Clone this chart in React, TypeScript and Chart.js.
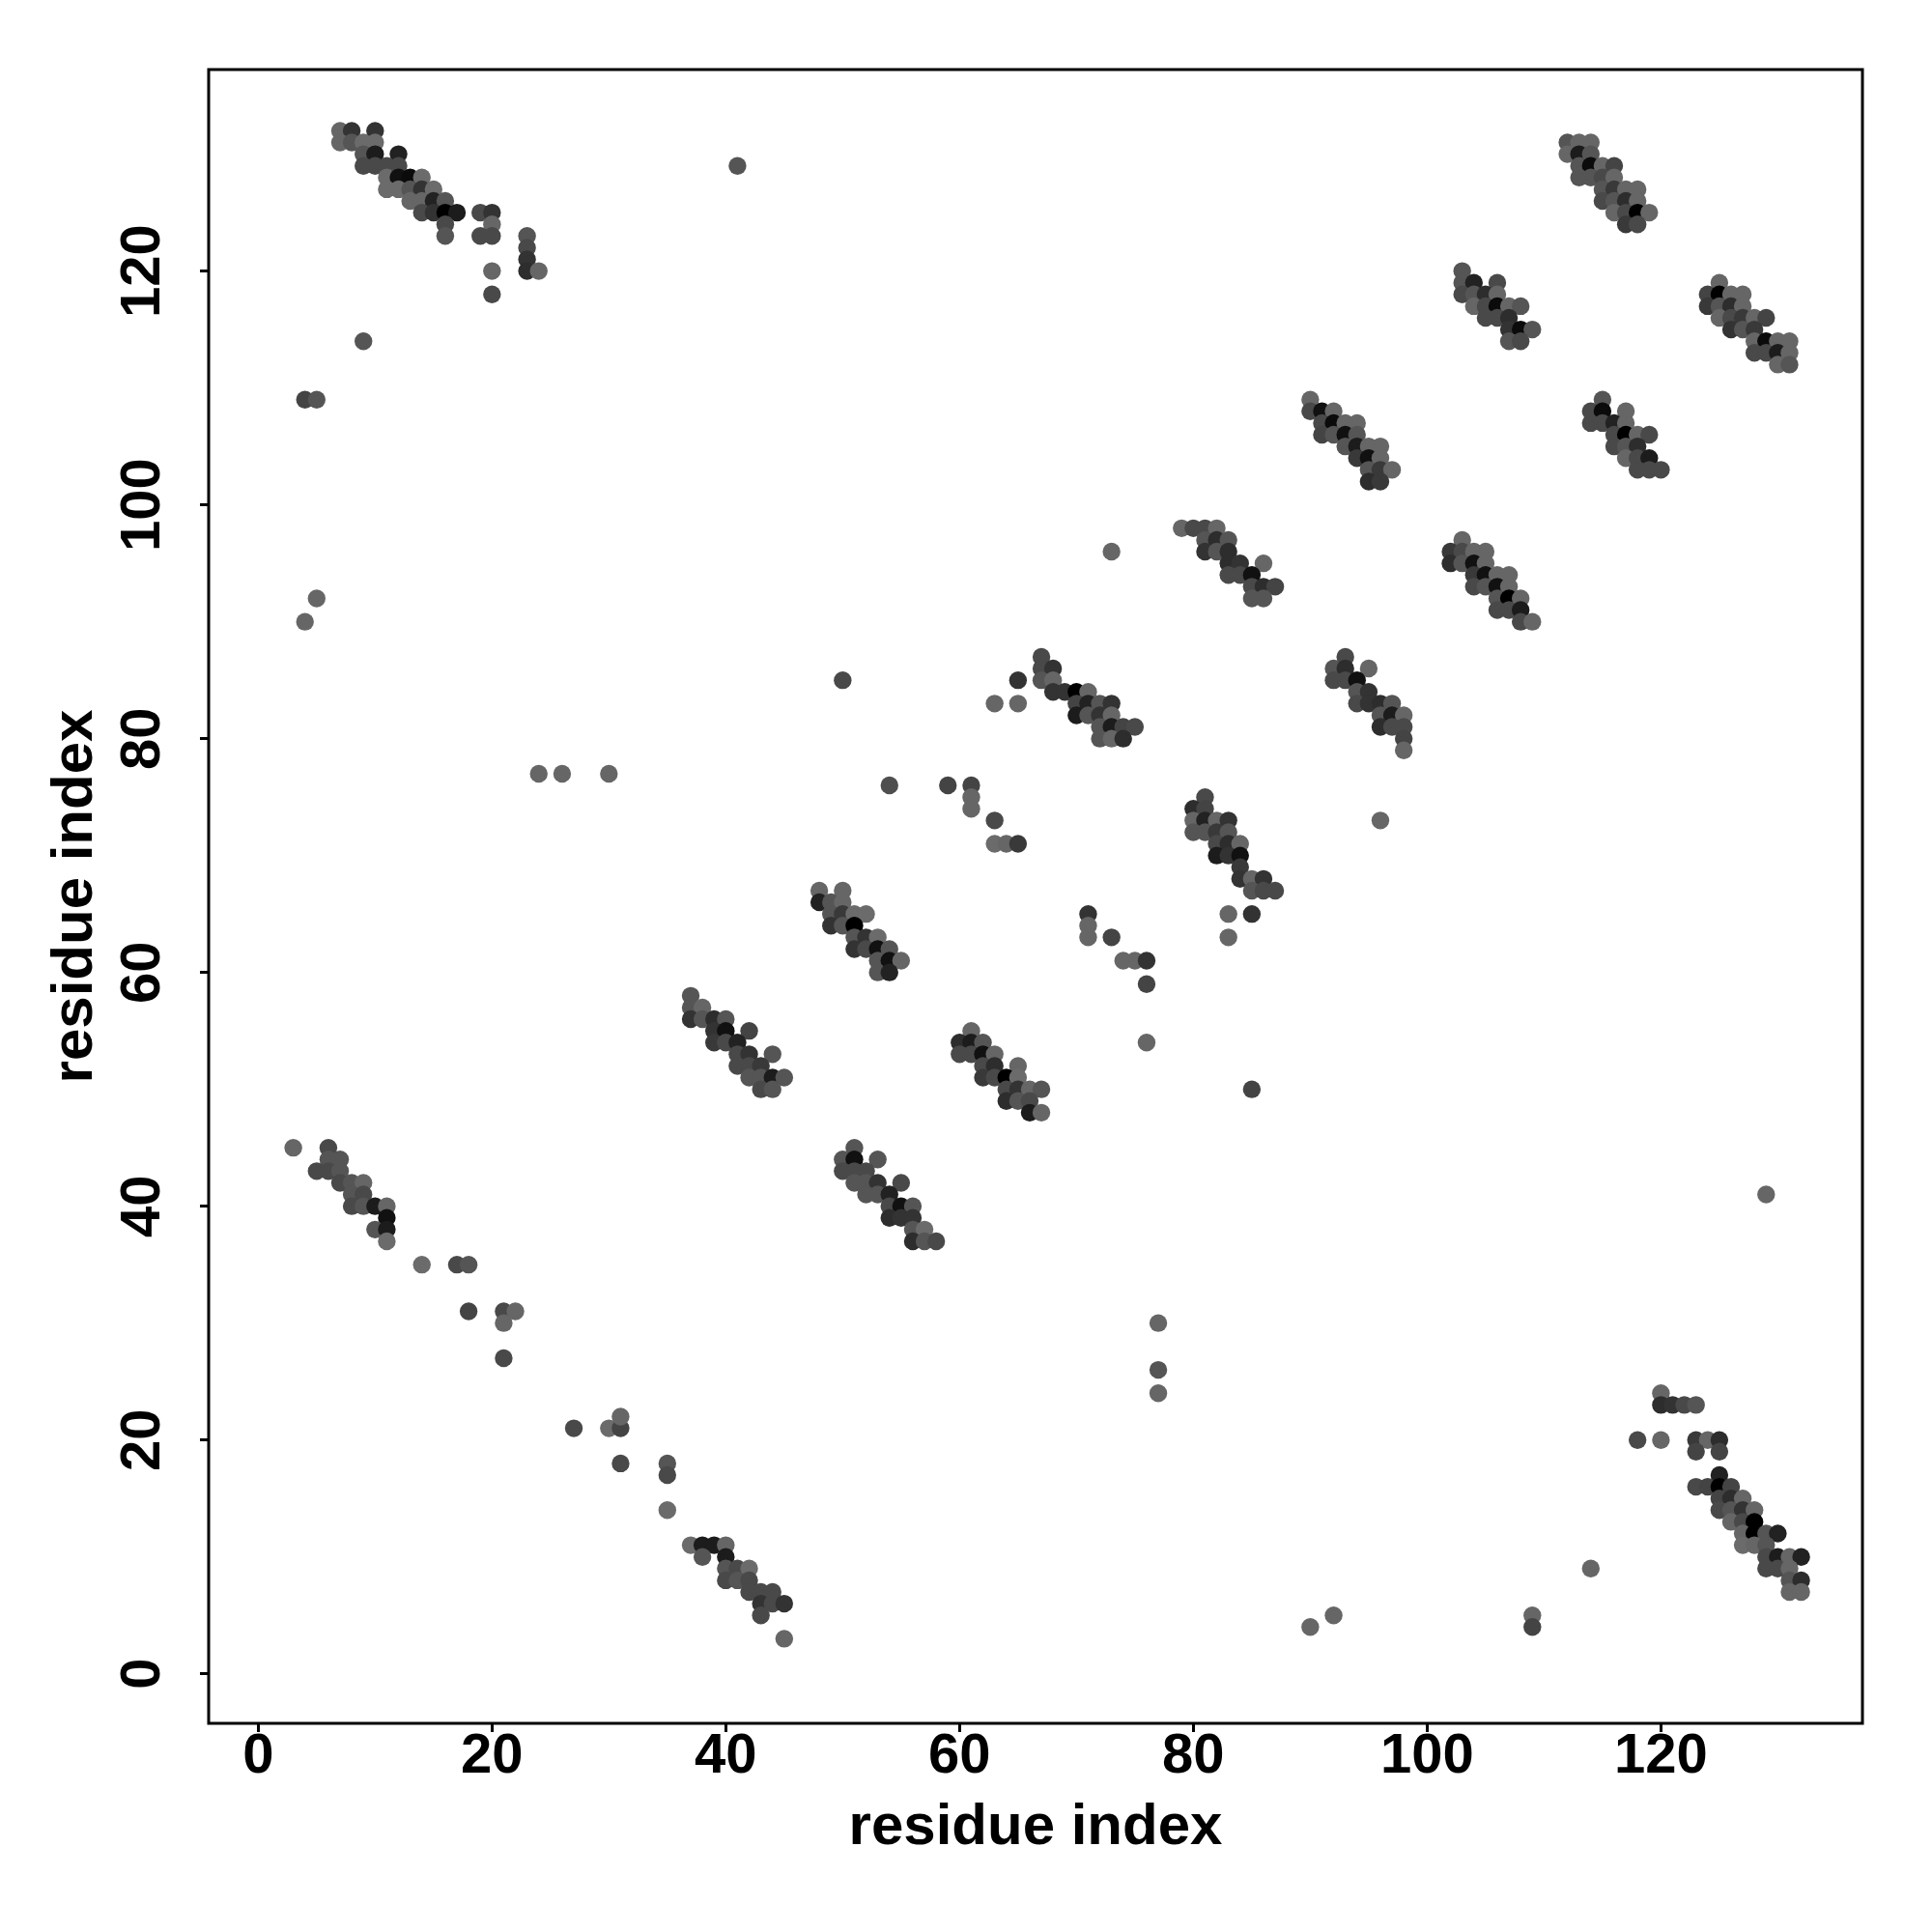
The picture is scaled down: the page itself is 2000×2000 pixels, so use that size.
import { useEffect, useRef } from 'react';
import { Chart, registerables } from 'chart.js';

Chart.register(...registerables);

// [residue i, residue j, contact score]
type Pt = [number, number, number];

const clusterTopLeft: Pt[] = [
  [7,132,.1],[8,132,.55],[10,132,.55],
  [7,131,.1],[8,131,.25],[9,131,.05],[10,131,.05],
  [9,130,.25],[10,130,.75],[12,130,.7],
  [9,129,.35],[10,129,.35],[11,129,.35],[12,129,.35],
  [11,128,.05],[12,128,.85],[13,128,.9],[14,128,.05],
  [11,127,.05],[12,127,.05],[13,127,.25],[14,127,.55],[15,127,.05],
  [13,126,.1],[14,126,.1],[15,126,.7],[16,126,.25],
  [14,125,.35],[15,125,.55],[16,125,1],[17,125,.75],[19,125,.35],[20,125,.55],
  [16,124,.35],[20,124,.1],
  [16,123,.25],[19,123,.35],[20,123,.35],[23,123,.25],
  [23,122,.35],[23,121,.55],
  [20,120,.1],[23,120,.6],[24,120,.1],
  [20,118,.35],[9,114,.25],
];

const clusterLowerLeft: Pt[] = [
  [3,45,.1],[6,45,.35],
  [6,44,.25],[7,44,.25],
  [5,43,.35],[6,43,.35],[7,43,.25],
  [7,42,.35],[8,42,.25],[9,42,.1],
  [8,41,.25],[9,41,.35],
  [8,40,.35],[9,40,.25],[10,40,.75],[11,40,.1],
  [11,39,.85],
  [10,38,.25],[11,38,.75],
  [11,37,.05],
  [14,35,.05],[17,35,.35],[18,35,.25],
  [18,31,.4],[21,31,.35],[22,31,.1],
  [21,30,.1],[21,27,.35],
  [27,21,.35],[30,21,.05],[31,21,.4],[31,22,.1],
  [31,18,.35],[35,18,.25],[35,17,.35],[35,14,.05],
  [37,11,.05],[38,11,.75],[39,11,.75],[40,11,.1],
  [38,10,.25],[40,10,.75],
  [40,9,.25],[41,9,.35],[42,9,.05],
  [40,8,.35],[41,8,.25],[42,8,.35],
  [42,7,.35],[43,7,.35],[44,7,.35],
  [43,6,.55],[44,6,.35],[45,6,.55],
  [43,5,.35],[45,3,.1],
];

const clusterB: Pt[] = [
  [37,58,.25],
  [37,57,.25],[38,57,.1],
  [37,56,.55],[38,56,.25],[39,56,.6],[40,56,.25],
  [39,55,.55],[40,55,.85],[42,55,.4],
  [39,54,.5],[40,54,.35],[41,54,.7],
  [41,53,.35],[42,53,.55],[44,53,.25],
  [41,52,.35],[42,52,.35],[43,52,.5],
  [42,51,.25],[43,51,.25],[44,51,.75],[45,51,.25],
  [43,50,.35],[44,50,.25],
];

const clusterA: Pt[] = [
  [48,67,.1],[50,67,.1],
  [48,66,.7],[49,66,.25],[50,66,.1],
  [49,65,.25],[50,65,.5],[51,65,.05],[52,65,.05],
  [49,64,.55],[50,64,.25],[51,64,1],
  [51,63,.25],[52,63,.55],[53,63,.05],
  [51,62,.55],[52,62,.35],[53,62,.85],[54,62,.25],
  [53,61,.25],[54,61,.85],[55,61,.1],
  [53,60,.25],[54,60,.7],
];

const clusterC: Pt[] = [
  [51,45,.25],
  [50,44,.25],[51,44,.85],[53,44,.25],
  [50,43,.35],[51,43,.35],[52,43,.35],
  [51,42,.25],[52,42,.25],[53,42,.55],[55,42,.35],
  [52,41,.25],[53,41,.25],[54,41,.7],
  [54,40,.35],[55,40,.85],[56,40,.25],
  [54,39,.6],[55,39,.55],[56,39,.55],
  [56,38,.25],[57,38,.05],
  [56,37,.6],[57,37,.25],[58,37,.35],
];

const clusterD: Pt[] = [
  [67,87,.35],
  [67,86,.35],[68,86,.55],
  [65,85,.55],[67,85,.25],[68,85,.1],
  [68,84,.55],[69,84,.55],[70,84,1],[71,84,.1],
  [63,83,.1],[65,83,.1],
  [70,83,.4],[71,83,.7],[72,83,.25],[73,83,.55],
  [70,82,.75],[71,82,.25],[72,82,.55],[73,82,.1],
  [72,81,.25],[73,81,.75],[74,81,.4],[75,81,.35],
  [72,80,.25],[73,80,.1],[74,80,.6],
];

const clusterMid: Pt[] = [
  [59,76,.4],[61,76,.4],[61,75,.1],[61,74,.1],[63,73,.35],[63,71,.05],[64,71,.1],[65,71,.5],
  [71,65,.55],[71,64,.1],[71,63,.1],[73,63,.4],[74,61,.1],[75,61,.1],[76,61,.55],[76,59,.4],[76,54,.1],
];

const clusterE: Pt[] = [
  [61,55,.1],
  [60,54,.6],[61,54,.75],[62,54,.25],
  [60,53,.35],[61,53,.35],[62,53,.85],[63,53,.1],
  [62,52,.35],[63,52,.6],[65,52,.1],
  [62,51,.5],[63,51,.35],[64,51,1],[65,51,.05],
  [64,50,.35],[65,50,.55],[66,50,.1],[67,50,.25],
  [64,49,.6],[65,49,.25],[66,49,.35],
  [66,48,.75],[67,48,.1],
];

const clusterF: Pt[] = [
  [79,98,.1],[80,98,.35],[81,98,.35],[82,98,.1],
  [81,97,.25],[82,97,.6],[83,97,.25],
  [81,96,.55],[82,96,.25],[83,96,.6],
  [83,95,.6],[84,95,.55],[86,95,.1],
  [83,94,.35],[84,94,.35],[85,94,.85],
  [85,93,.35],[86,93,.6],[87,93,.4],
  [85,92,.25],[86,92,.25],
  [73,96,.1],
];

const clusterG: Pt[] = [
  [93,87,.35],
  [92,86,.25],[93,86,.6],[95,86,.1],
  [92,85,.35],[93,85,.35],[94,85,.85],
  [94,84,.25],[95,84,.55],
  [94,83,.35],[95,83,.55],[96,83,.6],[97,83,.25],
  [96,82,.25],[97,82,.75],[98,82,.1],
  [96,81,.6],[97,81,.35],[98,81,.35],
  [98,80,.4],[98,79,.1],
  [96,73,.1],
];

const clusterH: Pt[] = [
  [81,75,.35],
  [80,74,.6],[81,74,.4],
  [80,73,.1],[81,73,.7],[82,73,.1],[83,73,.55],
  [80,72,.25],[81,72,.25],[82,72,.5],[83,72,.25],
  [82,71,.35],[83,71,.6],[84,71,.1],
  [82,70,.75],[83,70,.55],[84,70,.85],
  [84,69,.5],
  [84,68,.55],[85,68,.1],[86,68,.55],
  [85,67,.25],[86,67,.35],[87,67,.35],
  [83,65,.1],[85,65,.55],[83,63,.1],
  [85,50,.4],
];

const clusterI: Pt[] = [
  [90,109,.1],
  [90,108,.35],[91,108,.85],[92,108,.1],
  [91,107,.35],[92,107,.9],[93,107,.1],[94,107,.1],
  [91,106,.4],[92,106,.25],[93,106,.85],[94,106,.25],
  [93,105,.25],[94,105,.75],[95,105,.1],[96,105,.1],
  [94,104,.5],[95,104,.85],[96,104,.1],
  [95,103,.25],[96,103,.5],[97,103,.1],
  [95,102,.6],[96,102,.5],
];

const clusterJ: Pt[] = [
  [103,120,.25],
  [103,119,.25],[104,119,.7],[106,119,.35],
  [103,118,.35],[104,118,.25],[105,118,.6],[106,118,.1],
  [104,117,.1],[105,117,.35],[106,117,.9],[107,117,.1],[108,117,.25],
  [105,116,.35],[106,116,.35],[107,116,.6],
  [107,115,.55],[108,115,.9],[109,115,.25],
  [107,114,.25],[108,114,.35],
];

const clusterK: Pt[] = [
  [103,97,.1],
  [102,96,.5],[103,96,.35],[104,96,.1],[105,96,.1],
  [102,95,.6],[103,95,.25],[104,95,.85],[105,95,.1],
  [104,94,.5],[105,94,.85],[106,94,.1],[107,94,.1],
  [104,93,.35],[105,93,.25],[106,93,.85],[107,93,.1],
  [106,92,.25],[107,92,1],[108,92,.1],
  [106,91,.35],[107,91,.35],[108,91,.75],
  [108,90,.35],[109,90,.1],
];

const clusterL: Pt[] = [
  [112,131,.25],[113,131,.1],[114,131,.1],
  [112,130,.1],[113,130,.75],[114,130,.25],
  [113,129,.25],[114,129,.9],[115,129,.1],[116,129,.4],
  [113,128,.25],[114,128,.25],[115,128,.35],[116,128,.1],
  [115,127,.25],[116,127,.5],[117,127,.1],[118,127,.1],
  [115,126,.35],[116,126,.25],[117,126,.6],[118,126,.1],
  [116,125,.1],[117,125,.35],[118,125,1],[119,125,.1],
  [117,124,.5],[118,124,.35],
];

const clusterM: Pt[] = [
  [125,119,.1],
  [124,118,.4],[125,118,1],[126,118,.1],[127,118,.1],
  [124,117,.5],[125,117,.25],[126,117,.6],[127,117,.1],
  [125,116,.1],[126,116,.35],[127,116,.5],[128,116,.1],[129,116,.4],
  [126,115,.55],[127,115,.25],[128,115,.5],
  [128,114,.1],[129,114,.9],[130,114,.1],[131,114,.1],
  [128,113,.35],[129,113,.35],[130,113,.75],[131,113,.1],
  [130,112,.1],[131,112,.25],
];

const clusterN: Pt[] = [
  [115,109,.25],
  [114,108,.35],[115,108,.9],[117,108,.1],
  [114,107,.35],[115,107,.35],[116,107,.7],[117,107,.1],
  [116,106,.35],[117,106,1],[118,106,.1],[119,106,.35],
  [116,105,.35],[117,105,.25],[118,105,.6],
  [117,104,.1],[118,104,.35],[119,104,.75],
  [118,103,.35],[119,103,.35],[120,103,.35],
];

const clusterO: Pt[] = [
  [120,24,.1],
  [120,23,.6],[121,23,.55],[122,23,.35],[123,23,.25],
  [118,20,.35],[120,20,.1],[123,20,.5],[124,20,.1],[125,20,.6],
  [123,19,.4],[125,19,.4],
  [125,17,.7],
  [123,16,.35],[124,16,.4],[125,16,1],[126,16,.4],
  [125,15,.4],[126,15,.6],[127,15,.1],
  [125,14,.35],[126,14,.25],[127,14,.55],[128,14,.1],
  [126,13,.1],[127,13,.35],[128,13,1],
  [127,12,.1],[128,12,1],[129,12,.25],[130,12,.7],
  [127,11,.05],[128,11,.1],[129,11,.25],
  [129,10,.35],[130,10,.75],[131,10,.1],[132,10,.7],
  [129,9,.35],[130,9,.35],[131,9,.1],
  [131,8,.25],[132,8,.6],
  [131,7,.1],[132,7,.1],
];

const isolated: Pt[] = [
  [41,129,.25],[4,109,.4],[5,109,.25],[4,90,.1],[5,92,.1],
  [24,77,.1],[26,77,.1],[30,77,.1],[50,85,.35],[54,76,.3],
  [77,30,.1],[77,26,.25],[77,24,.1],[90,4,.1],[92,5,.1],
  [109,5,.1],[109,4,.4],[114,9,.1],[129,41,.1],
];

const axisTicks = [0, 20, 40, 60, 80, 100, 120];
const axisMin = -4.24;
const axisMax = 137.24;
const axisTitle = 'residue index';

const allPoints: Pt[] = [
  ...isolated, ...clusterTopLeft, ...clusterLowerLeft, ...clusterB, ...clusterA, ...clusterC,
  ...clusterD, ...clusterMid, ...clusterE, ...clusterF, ...clusterG, ...clusterH,
  ...clusterI, ...clusterJ, ...clusterK, ...clusterL, ...clusterM, ...clusterN, ...clusterO,
];

const FONT = '"Liberation Sans", Arial, Helvetica, sans-serif';

function shade(s: number): string {
  const g = Math.round(113 * (1 - s));
  return `rgb(${g},${g},${g})`;
}

const framePlugin = {
  id: 'frame',
  afterDraw(chart: any) {
    const { ctx, chartArea } = chart;
    const { left, top, right, bottom } = chartArea;
    ctx.save();
    ctx.lineWidth = 3;
    ctx.strokeStyle = '#000';
    ctx.strokeRect(left, top, right - left, bottom - top);
    ctx.restore();
  },
};

const yLabelPlugin = {
  id: 'yLabels',
  afterDraw(chart: any) {
    const { ctx } = chart;
    const s = chart.scales.y;
    ctx.save();
    ctx.font = `bold 58px ${FONT}`;
    ctx.fillStyle = '#000';
    ctx.textAlign = 'center';
    ctx.textBaseline = 'middle';
    for (const t of s.ticks) {
      const y = s.getPixelForValue(t.value);
      ctx.save();
      ctx.translate(149, y);
      ctx.rotate(-Math.PI / 2);
      ctx.fillText(String(t.value), 0, 0);
      ctx.restore();
    }
    ctx.restore();
  },
};

export default function App() {
  const ref = useRef<HTMLCanvasElement | null>(null);

  useEffect(() => {
    document.body.style.margin = '0';
    const canvas = ref.current;
    if (!canvas) return;
    const setTicks = (scale: any) => {
      scale.ticks = axisTicks.map((v) => ({ value: v }));
    };
    const grid = {
      display: true,
      drawOnChartArea: false,
      drawTicks: true,
      tickLength: 9,
      tickWidth: 3,
      tickColor: '#000',
      lineWidth: 3,
      color: '#000',
    };
    const chart = new Chart(canvas, {
      type: 'scatter',
      data: {
        datasets: [
          {
            data: allPoints.map((p) => ({ x: p[0], y: p[1] })),
            pointRadius: 9.2,
            pointHoverRadius: 9.2,
            pointBorderWidth: 0,
            pointBackgroundColor: allPoints.map((p) => shade(p[2])),
            pointBorderColor: 'rgba(0,0,0,0)',
          },
        ],
      },
      options: {
        animation: false,
        responsive: false,
        devicePixelRatio: 1,
        events: [],
        layout: { padding: { left: 0, top: 72, right: 72, bottom: 0 } },
        plugins: { legend: { display: false }, tooltip: { enabled: false } },
        scales: {
          x: {
            type: 'linear',
            min: axisMin,
            max: axisMax,
            afterBuildTicks: setTicks,
            afterFit: (s: any) => { s.height = 216; },
            grid,
            border: { display: false },
            ticks: {
              autoSkip: false,
              maxRotation: 0,
              minRotation: 0,
              padding: -3,
              color: '#000',
              font: { family: FONT, size: 58, weight: 'bold', lineHeight: 1 },
              callback: (v: any) => String(v),
            },
            title: {
              display: true,
              text: axisTitle,
              color: '#000',
              font: { family: FONT, size: 60, weight: 'bold' },
              padding: { top: 0, bottom: 72 },
            },
          },
          y: {
            type: 'linear',
            min: axisMin,
            max: axisMax,
            afterBuildTicks: setTicks,
            afterFit: (s: any) => { s.width = 216; },
            grid,
            border: { display: false },
            ticks: { display: false },
            title: {
              display: true,
              text: axisTitle,
              color: '#000',
              font: { family: FONT, size: 60, weight: 'bold' },
              padding: { top: 42, bottom: 0 },
            },
          },
        },
      } as any,
      plugins: [framePlugin, yLabelPlugin],
    });
    return () => chart.destroy();
  }, []);

  return (
    <div style={{ width: 2000, height: 2000, background: '#fff' }}>
      <canvas ref={ref} width={2000} height={2000} style={{ display: 'block' }} />
    </div>
  );
}
